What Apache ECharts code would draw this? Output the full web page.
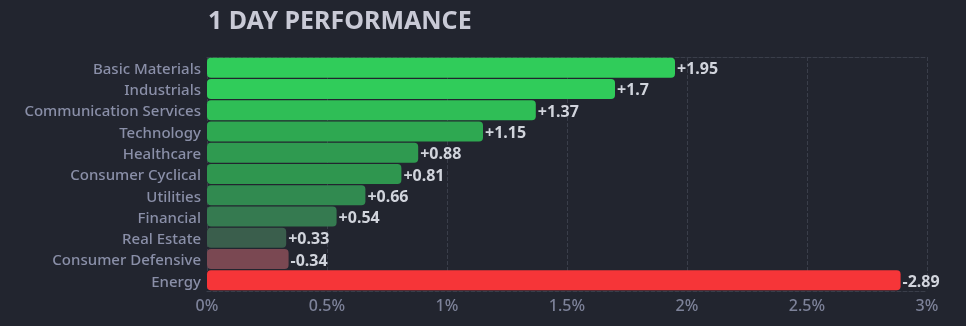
<!DOCTYPE html>
<html>
<head>
<meta charset="utf-8">
<script src="https://cdn.jsdelivr.net/npm/echarts@6/dist/echarts.min.js"></script>
<style>
html,body{margin:0;padding:0;background:#22252f;}
#chart{width:966px;height:326px;}
</style>
</head>
<body>
<div id="chart"></div>
<script>
const categories = ["Basic Materials","Industrials","Communication Services","Technology","Healthcare","Consumer Cyclical","Utilities","Financial","Real Estate","Consumer Defensive","Energy"];
const changes = [1.95, 1.7, 1.37, 1.15, 0.88, 0.81, 0.66, 0.54, 0.33, -0.34, -2.89];
const barColors = ["#30cc5a","#30cc5a","#2fbe56","#2ea851","#2f9a50","#2f964f","#318a50","#357a50","#3a5e4c","#7a4852","#f63538"];
const xTicks = [0, 0.5, 1, 1.5, 2, 2.5, 3];

const FONT = "Noto Sans";
const chart = echarts.init(document.getElementById('chart'), null, {renderer:'canvas'});
chart.setOption({
  backgroundColor: '#22252f',
  animation: false,
  title: {
    text: '1 DAY PERFORMANCE',
    left: 203, top: 4,
    textStyle: {color:'#c9cad6', fontSize: 25, fontWeight: 'bold', fontFamily: FONT}
  },
  grid: {left: 207, right: 39, top: 57, bottom: 35, containLabel: false},
  xAxis: [{
    type: 'value', min: xTicks[0], max: xTicks[xTicks.length-1], interval: 0.5,
    axisLine: {show: true, lineStyle: {color:'#3a3e4a', type:'dashed'}},
    axisTick: {show:false},
    splitLine: {show:true, lineStyle:{color:'#3a3e4a', type:'dashed', width:1}},
    axisLabel: {color:'#7d8299', fontSize: 16, fontFamily: FONT, fontWeight: 500, margin: 7,
      formatter: v => v + '%'}
  },{
    type: 'value', position: 'top', min: xTicks[0], max: xTicks[xTicks.length-1], interval: 0.5,
    axisLine: {show: true, lineStyle: {color:'#3a3e4a', type:'dashed'}},
    axisTick: {show:false}, axisLabel:{show:false}, splitLine:{show:false}
  }],
  yAxis: {
    type: 'category', data: categories, inverse: true,
    axisLine: {show:false}, axisTick: {show:false},
    axisLabel: {margin: 6,
      formatter: v => '{c|' + v + '}',
      rich: {c: {color:'#8a8fa8', fontSize: 15, fontFamily: FONT, fontWeight: 500, padding: [4,0,0,0]}}
    }
  },
  series: [{
    type: 'bar',
    xAxisIndex: 0,
    data: changes.map((v,i) => ({value: Math.abs(v), itemStyle: {color: barColors[i]}})),
    barCategoryGap: '6%',
    itemStyle: {borderRadius: 4},
    label: {
      show: true, position: 'right', distance: 2, offset: [0, 2],
      color: '#d1d4dc', fontSize: 16, fontWeight: 'bold', fontFamily: FONT,
      formatter: p => (changes[p.dataIndex] > 0 ? '+' : '') + changes[p.dataIndex]
    }
  }]
});
</script>
</body>
</html>
